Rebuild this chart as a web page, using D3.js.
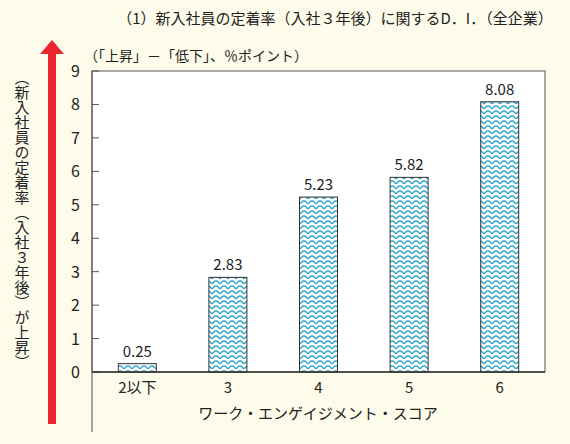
<!DOCTYPE html>
<html><head><meta charset="utf-8">
<script src="https://cdn.jsdelivr.net/npm/d3@7"></script>
<style>body{margin:0;background:#fdfbe9}</style>
</head><body><div id="chart"></div>
<script>
var categories = ['2以下', '3', '4', '5', '6'];
var values = [0.25, 2.83, 5.23, 5.82, 8.08];
var yTicks = [0, 1, 2, 3, 4, 5, 6, 7, 8, 9];

var W = 570, H = 444;
var mLeft = 92, mRight = 545, mTop = 71, mBottom = 372;
var font = '"Noto Sans CJK JP", "Noto Sans", sans-serif';

var svg = d3.select('#chart').append('svg')
  .attr('width', W).attr('height', H)
  .style('font-family', font);

// Wave pattern
var pat = svg.append('defs').append('pattern')
  .attr('id', 'wave').attr('patternUnits', 'userSpaceOnUse')
  .attr('width', 8).attr('height', 5);
pat.append('rect').attr('width', 8).attr('height', 5).attr('fill', '#fff');
pat.append('path')
  .attr('d', 'M0,1.5 C2,-0.5 2,3.5 4,3.5 C6,3.5 6,-0.5 8,1.5')
  .attr('fill', 'none').attr('stroke', '#2aa3c9').attr('stroke-width', 1.4);

var x = d3.scaleBand().domain(categories).range([mLeft, mRight]);
var y = d3.scaleLinear().domain([0, 9]).range([mBottom, mTop]);

svg.append('rect').attr('x', mLeft).attr('y', mTop)
  .attr('width', mRight - mLeft).attr('height', mBottom - mTop)
  .attr('fill', '#fff').attr('stroke', '#555').attr('stroke-width', 1);

var bw = 38;
svg.selectAll('.bar').data(values).enter().append('rect')
  .attr('x', (d, i) => x(categories[i]) + x.bandwidth() / 2 - bw / 2)
  .attr('y', d => y(d))
  .attr('width', bw).attr('height', d => y(0) - y(d))
  .attr('fill', 'url(#wave)').attr('stroke', '#333').attr('stroke-width', 1);

svg.selectAll('.val').data(values).enter().append('text')
  .attr('x', (d, i) => x(categories[i]) + x.bandwidth() / 2)
  .attr('y', d => y(d) - 7)
  .attr('text-anchor', 'middle').attr('font-size', 15).attr('fill', '#222')
  .text(d => d.toFixed(2));

// y axis ticks (inside)
svg.selectAll('.tk').data(yTicks).enter().append('line')
  .attr('x1', mLeft).attr('x2', mLeft + 7)
  .attr('y1', d => y(d)).attr('y2', d => y(d))
  .attr('stroke', '#555');
svg.selectAll('.tl').data(yTicks).enter().append('text')
  .attr('x', mLeft - 12).attr('y', d => y(d) + 6)
  .attr('text-anchor', 'end').attr('font-size', 16).attr('fill', '#222')
  .text(d => d);

// baseline and extended left axis
svg.append('line').attr('x1', mLeft).attr('x2', mRight).attr('y1', mBottom).attr('y2', mBottom)
  .attr('stroke', '#333').attr('stroke-width', 1.3);
svg.append('line').attr('x1', mLeft).attr('x2', mLeft).attr('y1', mTop).attr('y2', 432)
  .attr('stroke', '#555').attr('stroke-width', 1);

svg.selectAll('.cl').data(categories).enter().append('text')
  .attr('x', d => x(d) + x.bandwidth() / 2).attr('y', 393)
  .attr('text-anchor', 'middle').attr('font-size', 15).attr('fill', '#222')
  .text(d => d);

svg.append('text').attr('x', 318).attr('y', 419).attr('text-anchor', 'middle')
  .attr('font-size', 15).attr('fill', '#222').text('ワーク・エンゲイジメント・スコア');

svg.append('text').attr('x', 335).attr('y', 24).attr('text-anchor', 'middle')
  .attr('font-size', 15).attr('fill', '#222').text('（1）新入社員の定着率（入社３年後）に関するD．I．（全企業）');

svg.append('text').attr('x', 84).attr('y', 61)
  .attr('font-size', 14).attr('fill', '#222').text('（「上昇」－「低下」、％ポイント）');

// red arrow
svg.append('rect').attr('x', 48).attr('y', 52).attr('width', 8).attr('height', 372).attr('fill', '#e8262b');
svg.append('path').attr('d', 'M40,54 L52,40 L64,54 Z').attr('fill', '#e8262b');

// vertical y label
svg.append('text').attr('transform', 'translate(22,220)')
  .attr('writing-mode', 'vertical-rl').attr('text-anchor', 'middle')
  .attr('font-size', 15).attr('fill', '#222')
  .text('（新入社員の定着率（入社３年後）が上昇）');
</script></body></html>
